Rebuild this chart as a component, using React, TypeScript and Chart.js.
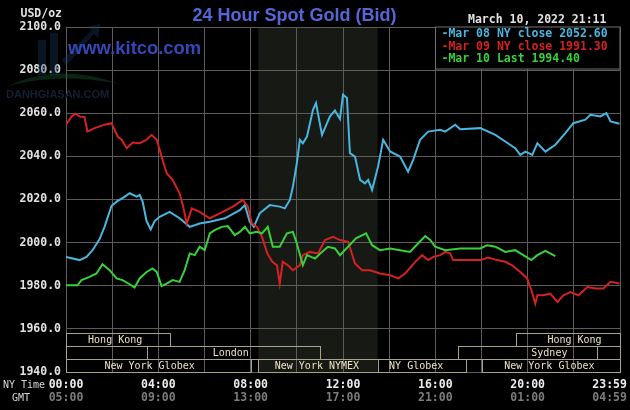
import React, { useEffect, useRef } from "react";
import { Chart, registerables } from "chart.js";
Chart.register(...registerables);

// ---- data (hours after 00:00 NY time, price USD/oz) ----
const hoursMar08 = [0.0, 0.59, 0.89, 1.15, 1.45, 1.67, 1.97, 2.19, 2.5, 2.76, 3.06, 3.19, 3.32, 3.49, 3.67, 3.84, 4.06, 4.49, 4.92, 5.36, 5.79, 6.23, 6.88, 7.53, 7.75, 7.96, 8.14, 8.39, 8.83, 9.26, 9.48, 9.7, 9.83, 10.0, 10.13, 10.26, 10.44, 10.7, 10.83, 11.09, 11.43, 11.65, 11.87, 12.0, 12.17, 12.3, 12.52, 12.74, 12.95, 13.09, 13.26, 13.52, 13.74, 14.04, 14.47, 14.82, 15.04, 15.34, 15.69, 16.21, 16.43, 16.86, 17.08, 17.95, 18.6, 19.03, 19.46, 19.68, 19.9, 20.2, 20.42, 20.77, 21.2, 21.63, 21.98, 22.5, 22.72, 23.15, 23.41, 23.59, 23.98];
const pricesMar08 = [1993.3, 1991.9, 1993.4, 1996.5, 2001.5, 2007.3, 2017.0, 2019.0, 2021.0, 2022.9, 2021.3, 2022.1, 2019.0, 2010.0, 2006.1, 2010.0, 2012.0, 2014.3, 2011.3, 2007.3, 2008.9, 2009.7, 2011.3, 2015.1, 2017.4, 2009.7, 2007.3, 2013.6, 2017.4, 2016.7, 2015.9, 2019.8, 2026.0, 2036.8, 2047.7, 2046.1, 2049.2, 2061.6, 2064.7, 2050.0, 2058.5, 2061.3, 2057.3, 2068.6, 2067.1, 2041.5, 2039.9, 2029.1, 2027.5, 2029.1, 2024.4, 2035.3, 2047.7, 2042.3, 2039.9, 2032.9, 2038.4, 2047.7, 2051.5, 2052.3, 2051.5, 2054.7, 2052.6, 2053.1, 2050.0, 2046.9, 2043.8, 2040.7, 2042.2, 2040.7, 2046.1, 2042.2, 2045.4, 2050.8, 2055.4, 2057.0, 2059.3, 2058.5, 2060.1, 2056.2, 2055.1];

const hoursMar09 = [0.0, 0.24, 0.41, 0.59, 0.8, 0.93, 1.24, 1.67, 1.97, 2.24, 2.41, 2.63, 2.89, 3.19, 3.49, 3.71, 3.93, 4.14, 4.36, 4.62, 4.92, 5.06, 5.23, 5.45, 5.79, 6.23, 6.66, 7.23, 7.66, 7.88, 8.05, 8.27, 8.49, 8.72, 8.94, 9.14, 9.26, 9.39, 9.61, 9.83, 10.13, 10.26, 10.57, 10.92, 11.22, 11.57, 11.87, 12.22, 12.52, 12.83, 13.17, 13.6, 14.04, 14.39, 14.69, 15.13, 15.43, 15.69, 15.91, 16.21, 16.43, 16.64, 16.77, 17.3, 17.95, 18.29, 18.68, 19.03, 19.33, 19.68, 19.98, 20.16, 20.33, 20.42, 20.68, 20.98, 21.29, 21.55, 21.85, 22.2, 22.59, 22.94, 23.28, 23.59, 23.98];
const pricesMar09 = [2054.7, 2058.5, 2059.8, 2058.5, 2058.2, 2051.5, 2053.1, 2054.7, 2055.4, 2049.2, 2047.7, 2043.8, 2046.4, 2046.1, 2047.7, 2050.0, 2047.7, 2039.9, 2032.2, 2029.1, 2022.9, 2017.5, 2008.9, 2015.9, 2014.3, 2011.3, 2013.6, 2016.7, 2019.8, 2016.7, 2008.9, 2007.3, 2002.7, 1995.0, 1991.1, 1989.5, 1981.0, 1991.1, 1989.5, 1987.2, 1989.5, 1994.2, 1995.7, 1995.0, 2001.2, 2002.7, 2001.2, 2000.4, 1990.3, 1987.2, 1987.2, 1985.7, 1984.9, 1983.4, 1985.7, 1991.1, 1994.2, 1991.9, 1993.4, 1994.2, 1995.7, 1995.0, 1991.9, 1991.9, 1991.9, 1993.1, 1991.9, 1991.1, 1989.5, 1986.4, 1983.4, 1977.9, 1971.7, 1975.6, 1975.6, 1976.4, 1972.5, 1975.6, 1977.1, 1975.6, 1979.4, 1978.7, 1978.7, 1981.8, 1981.0];

const hoursMar10 = [0.0, 0.5, 0.67, 1.02, 1.32, 1.58, 1.89, 2.19, 2.45, 2.76, 2.97, 3.19, 3.49, 3.75, 3.93, 4.14, 4.36, 4.62, 4.92, 5.14, 5.36, 5.58, 5.79, 6.01, 6.23, 6.44, 6.75, 7.01, 7.31, 7.53, 7.75, 7.96, 8.27, 8.49, 8.74, 8.96, 9.26, 9.57, 9.83, 10.0, 10.26, 10.44, 10.79, 11.09, 11.35, 11.65, 11.87, 12.22, 12.56, 13.0, 13.26, 13.6, 14.04, 14.47, 14.9, 15.25, 15.56, 15.78, 15.99, 16.43, 17.08, 17.95, 18.25, 18.6, 19.03, 19.46, 19.81, 20.16, 20.42, 20.77, 21.2];
const pricesMar10 = [1980.2, 1980.2, 1982.6, 1984.1, 1985.7, 1990.0, 1987.2, 1983.4, 1982.6, 1980.7, 1979.2, 1983.4, 1986.4, 1988.0, 1986.4, 1979.8, 1981.0, 1982.6, 1981.8, 1987.2, 1995.0, 1994.2, 1998.1, 1996.5, 2004.3, 2005.8, 2007.3, 2007.7, 2003.5, 2005.0, 2007.3, 2004.3, 2005.0, 2004.3, 2007.3, 1998.1, 1998.1, 2004.3, 2005.0, 1999.6, 1989.5, 1994.2, 1992.6, 1995.7, 1998.1, 1997.3, 1994.2, 1998.1, 2002.0, 2004.3, 1998.8, 1996.5, 1997.3, 1996.5, 1995.7, 1999.6, 2003.0, 2001.2, 1998.1, 1996.5, 1997.3, 1997.3, 1998.8, 1998.1, 1995.7, 1996.5, 1994.2, 1991.9, 1994.2, 1996.2, 1993.7];

const legendNames = ["Mar 08 NY close", "Mar 09 NY close", "Mar 10 Last"];
const legendValues = ["2052.60", "1991.30", "1994.40"];

const nyTimeLabels = ["00:00", "04:00", "08:00", "12:00", "16:00", "20:00", "23:59"];
const gmtTimeLabels = ["05:00", "09:00", "13:00", "17:00", "21:00", "01:00", "04:59"];

const sessionNames = ["Hong Kong", "Hong Kong", "", "London", "Sydney", "", "New York Globex", "New York NYMEX", "NY Globex", "New York Globex"];
const sessionRow = [0, 0, 1, 1, 1, 1, 2, 2, 2, 2];
const sessionStart = [0, 19.5, 0, 3.5, 17, 23, 0, 8.333, 13.5, 18];
const sessionEnd = [4.5, 24, 3.5, 11, 23, 24, 8, 13.5, 17.35, 24];
const sessionLabelAt = [2.13, 22.03, 0, 7.14, 20.94, 0, 3.62, 10.87, 15.17, 20.94];

const nymexStart = 8.333;
const nymexEnd = 13.5;

const titleText = "24 Hour Spot Gold (Bid)";
const dateText = "March 10, 2022 21:11";
const unitText = "USD/oz";

// ---- styles ----
const COLORS = ["#48b6de", "#d42222", "#38d238"];
const MONO = "'DejaVu Sans Mono', 'Liberation Mono', monospace";
const GRID = "#5c5c5c";

function toXY(h: number[], p: number[]) {
  return h.map((v, i) => ({ x: v, y: p[i] }));
}

const decoPlugin = {
  id: "deco",
  beforeDraw(chart: any) {
    const { ctx, chartArea: a } = chart;
    const x = chart.scales.x;
    ctx.save();
    ctx.fillStyle = "#000";
    ctx.fillRect(0, 0, chart.width, chart.height);
    const x0 = x.getPixelForValue(nymexStart);
    const x1 = x.getPixelForValue(nymexEnd);
    ctx.fillStyle = "#171915";
    ctx.fillRect(x0, a.top, x1 - x0, a.bottom - a.top);
    ctx.restore();
  },
  beforeDatasetsDraw(chart: any) {
    const { ctx } = chart;
    ctx.save();
    // faint logo watermark
    ctx.fillStyle = "rgba(30,60,100,0.35)";
    ctx.beginPath();
    ctx.moveTo(38, 75); ctx.lineTo(38, 40); ctx.lineTo(46, 40); ctx.lineTo(46, 75);
    ctx.closePath(); ctx.fill();
    ctx.beginPath();
    ctx.moveTo(50, 75); ctx.lineTo(50, 33); ctx.lineTo(58, 33); ctx.lineTo(58, 75);
    ctx.closePath(); ctx.fill();
    ctx.beginPath();
    ctx.moveTo(62, 60); ctx.lineTo(92, 30); ctx.lineTo(86, 27); ctx.lineTo(100, 24);
    ctx.lineTo(98, 38); ctx.lineTo(94, 34); ctx.lineTo(66, 66); ctx.closePath(); ctx.fill();
    ctx.fillStyle = "rgba(25,90,50,0.4)";
    ctx.beginPath();
    ctx.moveTo(8, 86); ctx.quadraticCurveTo(60, 62, 120, 84);
    ctx.quadraticCurveTo(60, 72, 8, 86); ctx.fill();
    ctx.fillStyle = "#142032";
    ctx.font = "bold 11px 'Liberation Sans', Arial, sans-serif";
    ctx.textAlign = "left";
    ctx.textBaseline = "middle";
    ctx.fillText("DANHGIASAN.COM", 6, 95);
    // kitco watermark
    ctx.fillStyle = "#3448b8";
    ctx.font = "bold 18.4px 'Liberation Sans', Arial, sans-serif";
    ctx.fillText("www.kitco.com", 68, 49);
    ctx.restore();
  },
  afterDatasetsDraw(chart: any) {
    const { ctx, chartArea: a } = chart;
    const x = chart.scales.x;
    ctx.save();
    // session bars
    const rowH = (a.bottom - a.top) / 8 / 3.27;
    ctx.lineWidth = 1;
    ctx.font = `10px ${MONO}`;
    ctx.textBaseline = "middle";
    ctx.textAlign = "center";
    for (let i = 0; i < sessionNames.length; i++) {
      const r = sessionRow[i];
      const yb = Math.round(a.bottom - (2 - r) * rowH);
      const yt = Math.round(yb - rowH);
      const xs = Math.round(x.getPixelForValue(sessionStart[i]));
      const xe = Math.round(x.getPixelForValue(sessionEnd[i]));
      ctx.strokeStyle = "#aaa286";
      ctx.strokeRect(xs + 0.5, yt + 0.5, xe - xs, yb - yt);
      if (sessionNames[i]) {
        ctx.fillStyle = "#ece2c6";
        ctx.fillText(sessionNames[i], x.getPixelForValue(sessionLabelAt[i]), (yt + yb) / 2 + 1);
      }
    }
    // legend box
    const lx = 435.5, ly = a.top, lw = a.right - 435.5, lh = 42;
    ctx.fillStyle = "#000";
    ctx.fillRect(lx, ly, lw, lh);
    ctx.strokeStyle = "#707070";
    ctx.strokeRect(lx, ly, lw, lh);
    ctx.font = `bold 11.5px ${MONO}`;
    ctx.textAlign = "left";
    for (let i = 0; i < legendNames.length; i++) {
      ctx.fillStyle = COLORS[i];
      ctx.fillText(`-${legendNames[i]} ${legendValues[i]}`, 441.5, ly + 7 + i * 12.7);
    }
    // texts
    ctx.fillStyle = "#e2e2e2";
    ctx.font = `bold 11.5px ${MONO}`;
    ctx.textAlign = "right";
    ctx.fillText(unitText, 62, 14);
    ctx.textAlign = "left";
    ctx.fillText(dateText, 468, 20);
    ctx.font = "bold 18px 'Liberation Sans', Arial, sans-serif";
    ctx.fillStyle = "#5566d8";
    ctx.textAlign = "center";
    ctx.fillText(titleText, 294.5, 16);
    ctx.font = `10px ${MONO}`;
    ctx.fillStyle = "#d6d6d6";
    ctx.textAlign = "left";
    ctx.fillText("NY Time", 3, 385);
    ctx.fillText("GMT", 12, 398);
    ctx.restore();
  },
};

function tickLabel(list: string[]) {
  return (v: any) => {
    const n = Number(v);
    if (n % 4 !== 0) return "";
    const idx = Math.round(n / 4);
    const s = list[idx] ?? "";
    return idx === 6 ? s + "   " : s;
  };
}

export default function App() {
  const ref = useRef<HTMLCanvasElement | null>(null);
  useEffect(() => {
    if (!ref.current) return;
    const chart = new Chart(ref.current, {
      type: "line",
      data: {
        datasets: [
          { label: legendNames[2], data: toXY(hoursMar10, pricesMar10), borderColor: COLORS[2] },
          { label: legendNames[1], data: toXY(hoursMar09, pricesMar09), borderColor: COLORS[1] },
          { label: legendNames[0], data: toXY(hoursMar08, pricesMar08), borderColor: COLORS[0] },
        ].map((d) => ({ ...d, borderWidth: 2, pointRadius: 0, tension: 0, fill: false })),
      },
      options: {
        responsive: false,
        animation: false,
        devicePixelRatio: 1,
        layout: { padding: { left: 0, right: 10, top: 27, bottom: 0 } },
        plugins: { legend: { display: false }, tooltip: { enabled: false }, title: { display: false } },
        scales: {
          x: {
            type: "linear",
            position: "bottom",
            min: 0,
            max: 24,
            grid: { color: GRID, drawTicks: false, lineWidth: 1 },
            border: { color: GRID },
            ticks: {
              stepSize: 2,
              autoSkip: false,
              maxRotation: 0,
              padding: 6,
              color: "#ececec",
              font: { family: MONO, size: 11.5, weight: "bold" },
              callback: tickLabel(nyTimeLabels),
            },
            afterFit: (s: any) => { s.height = 18; s.paddingLeft = 0; s.paddingRight = 0; },
          },
          x2: {
            type: "linear",
            position: "bottom",
            min: 0,
            max: 24,
            grid: { display: false, drawTicks: false },
            border: { display: false },
            ticks: {
              stepSize: 2,
              autoSkip: false,
              maxRotation: 0,
              padding: 1,
              color: "#7c7c7c",
              font: { family: MONO, size: 11.5, weight: "bold" },
              callback: tickLabel(gmtTimeLabels),
            },
            afterFit: (s: any) => { s.height = 20; s.paddingLeft = 0; s.paddingRight = 0; },
          },
          y: {
            min: 1940,
            max: 2100,
            grid: { color: GRID, drawTicks: false, lineWidth: 1 },
            border: { color: GRID },
            ticks: {
              stepSize: 20,
              padding: 5,
              color: "#e2e2e2",
              font: { family: MONO, size: 11.5, weight: "bold" },
              callback: (v: any) => Number(v).toFixed(1),
            },
            afterFit: (s: any) => { s.width = 66; },
          },
        },
      },
      plugins: [decoPlugin],
    } as any);
    return () => chart.destroy();
  }, []);
  return (
    <div style={{ position: "fixed", left: 0, top: 0, width: 630, height: 410, background: "#000" }}>
      <canvas ref={ref} width={630} height={410} style={{ display: "block", width: 630, height: 410 }} />
    </div>
  );
}
